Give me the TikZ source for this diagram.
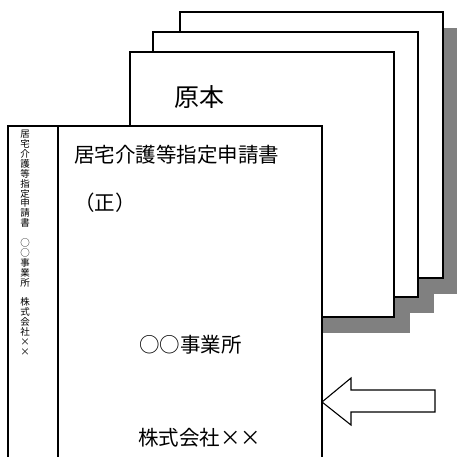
\documentclass[tikz,border=0pt]{standalone}
\usepackage{fontspec}
\setmainfont{Noto Sans CJK JP}
\begin{document}
\begin{tikzpicture}[x=1pt, y=-1pt,
		sheet/.style={draw, fill=white, line width=1.4pt},
		shade/.style={fill=gray},
		maintext/.style={inner sep=0pt, anchor=west, font=\fontsize{20.5}{24}\selectfont},
		spinetext/.style={inner sep=0pt, anchor=north, align=center, font=\fontsize{9.5}{9.9}\selectfont}]
			\useasboundingbox (0,0) rectangle (457,457);
			\clip (0,0) rectangle (457,457);
			
			% shadows
			\fill[shade] (196,28) rectangle (459,294);
			\fill[shade] (169,48) rectangle (434,313);
			\fill[shade] (146,68) rectangle (410,333);
			
			% back sheets
			\draw[sheet] (180,12) rectangle (443,278);
			\draw[sheet] (153,32) rectangle (418,297);
			\draw[sheet] (130,52) rectangle (394,317);
			\node[inner sep=0pt, font=\fontsize{25}{28}\selectfont] (orig) at (199,97) {原本};
			
			% front sheet
			\draw[sheet] (8,470) -- (8,126) -- (322,126) -- (322,470);
			\draw[line width=1.4pt] (58,126) -- (58,470);
			
			\node[maintext] (title) at (74,155) {居宅介護等指定申請書};
			\node[maintext] (sei) at (74,203) {（正）};
			\node[maintext] (office) at (139,345) {○○事業所};
			\node[maintext] (company) at (138,438) {株式会社××};
			\node[spinetext] (spine) at (25,130) {居\\宅\\介\\護\\等\\指\\定\\申\\請\\書\\\phantom{○}\\○\\○\\事\\業\\所\\\phantom{○}\\株\\式\\会\\社\\×\\×};
			
			% arrow
			\draw[fill=white, line width=1.1pt] (322,402) -- (351,378) -- (351,390) -- (435,390) -- (435,412) -- (351,412) -- (351,425) -- cycle;
			
		\end{tikzpicture}
\end{document}
